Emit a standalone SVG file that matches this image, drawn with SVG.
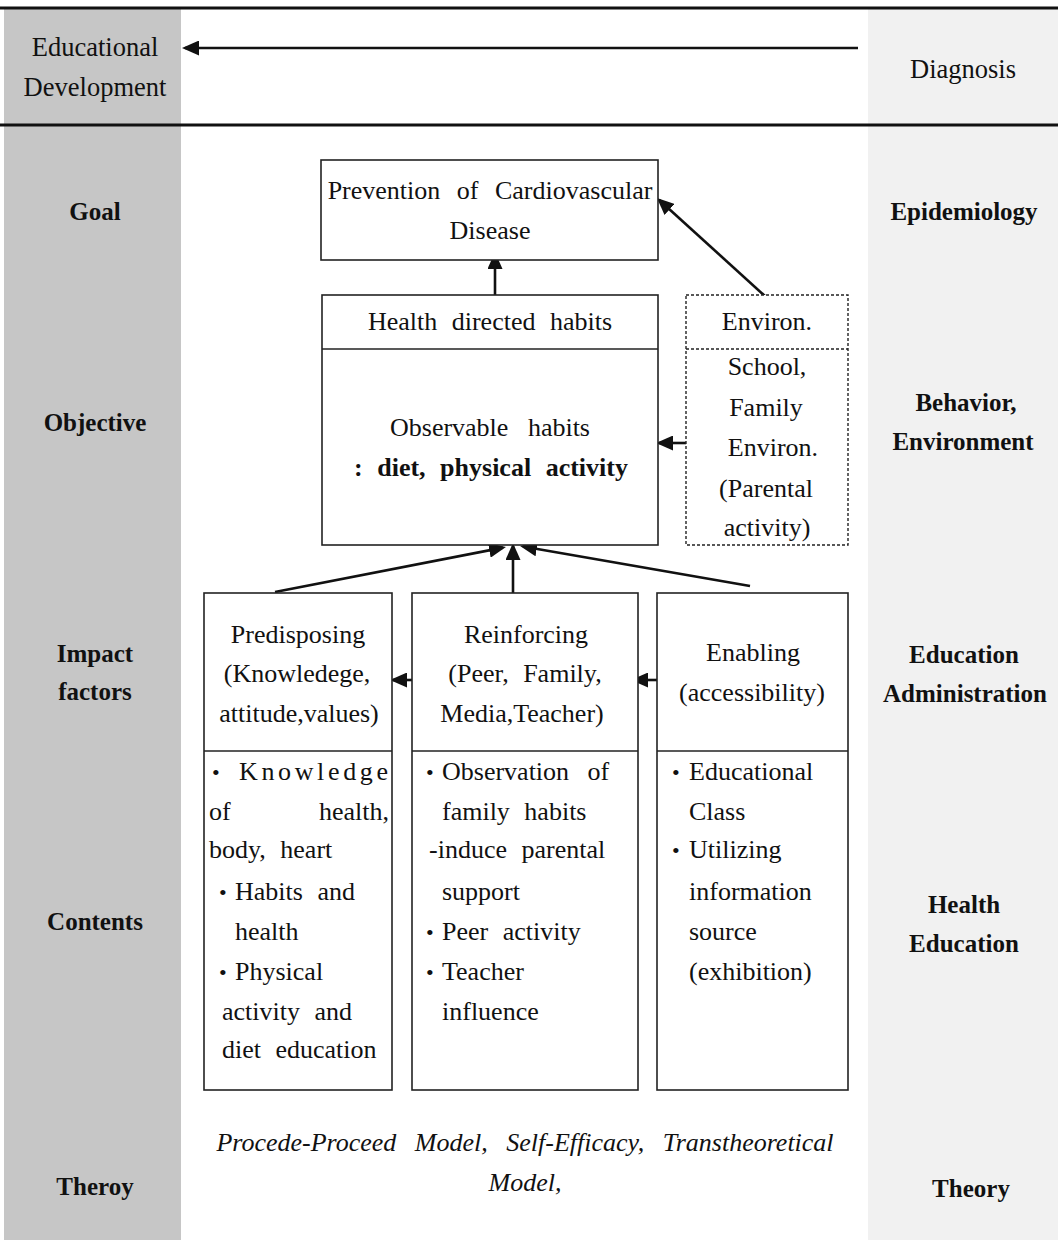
<svg xmlns="http://www.w3.org/2000/svg" width="1058" height="1240" viewBox="0 0 1058 1240">
<style>
.t{font-family:"Liberation Serif","Times New Roman",serif;font-size:26px;fill:#111;word-spacing:8px}
.c{text-anchor:middle}
.e{text-anchor:end}
.bd{font-weight:bold}
.lab{font-family:"Liberation Serif","Times New Roman",serif;font-size:25px;font-weight:bold;fill:#111;text-anchor:middle}
.it{font-style:italic;word-spacing:12px}
.bu{font-size:22px}
.box{fill:#fff;stroke:#222;stroke-width:1.6}
.dash{fill:#fff;stroke:#222;stroke-width:1.4;stroke-dasharray:3 2}
.rule{stroke:#111;stroke-width:3}
.arr{stroke:#111;stroke-width:2.6;fill:none;marker-end:url(#ah)}
</style>
<defs>
<marker id="ah" markerUnits="userSpaceOnUse" markerWidth="17" markerHeight="15" refX="14" refY="7.5" orient="auto">
<path d="M0,0 L17,7.5 L0,15 z" fill="#111"/>
</marker>
</defs>
<rect width="1058" height="1240" fill="#fff"/>
<g id="columns">
<rect x="4" y="9" width="177" height="1231" fill="#c6c6c6"/>
<rect x="868" y="9" width="190" height="1231" fill="#f1f1f1"/>
</g>
<g id="rules">
<line class="rule" x1="0" y1="8" x2="1058" y2="8"/>
<line class="rule" x1="0" y1="125" x2="1058" y2="125"/>
</g>
<g id="left-labels">
<text class="t c" x="95" y="56" style="font-size:26.5px">Educational</text>
<text class="t c" x="95" y="96" style="font-size:26.5px">Development</text>
<text class="lab" x="95" y="220">Goal</text>
<text class="lab" x="95" y="431">Objective</text>
<text class="lab" x="95" y="662">Impact</text>
<text class="lab" x="95" y="700">factors</text>
<text class="lab" x="95" y="930">Contents</text>
<text class="lab" x="95" y="1195">Theroy</text>
</g>
<g id="right-labels">
<text class="t c" x="963" y="78" style="font-size:26.5px">Diagnosis</text>
<text class="lab" x="964" y="220">Epidemiology</text>
<text class="lab" x="966" y="411">Behavior,</text>
<text class="lab" x="963" y="450">Environment</text>
<text class="lab" x="964" y="663">Education</text>
<text class="lab" x="965" y="702">Administration</text>
<text class="lab" x="964" y="913">Health</text>
<text class="lab" x="964" y="952">Education</text>
<text class="lab" x="971" y="1197">Theory</text>
</g>
<g id="connectors">
<line class="arr" x1="858" y1="48" x2="185" y2="48"/>
<line class="arr" x1="495" y1="295" x2="495" y2="255"/>
<line class="arr" x1="766" y1="297" x2="659.2" y2="200"/>
<line class="arr" x1="686" y1="443" x2="659" y2="443"/>
<line class="arr" x1="275" y1="592" x2="503" y2="547.6"/>
<line class="arr" x1="513" y1="593" x2="513" y2="546"/>
<line class="arr" x1="750" y1="586" x2="523" y2="546.5"/>
<line class="arr" x1="412" y1="680" x2="393" y2="680"/>
<line class="arr" x1="657" y1="680" x2="634" y2="680"/>
</g>
<g id="goal">
<rect class="box" x="321" y="160" width="337" height="100"/>
<text class="t c" x="490" y="199" style="word-spacing:10px">Prevention of Cardiovascular</text>
<text class="t c" x="490" y="239">Disease</text>
</g>
<g id="habits">
<rect class="box" x="322" y="295" width="336" height="250"/>
<line stroke="#222" stroke-width="1.6" x1="322" y1="349" x2="658" y2="349"/>
<text class="t c" x="490" y="330">Health directed habits</text>
<text class="t c" x="490" y="436" style="word-spacing:13px">Observable habits</text>
<text class="t c bd" x="491" y="476" style="word-spacing:8px">: diet, physical activity</text>
</g>
<g id="environ">
<rect class="dash" x="686" y="295" width="162" height="250"/>
<line stroke="#222" stroke-width="1.4" stroke-dasharray="3 2" x1="686" y1="349" x2="848" y2="349"/>
<text class="t c" x="767" y="330">Environ.</text>
<text class="t c" x="767" y="375">School,</text>
<text class="t c" x="766" y="416">Family</text>
<text class="t c" x="773" y="456">Environ.</text>
<text class="t c" x="766" y="497">(Parental</text>
<text class="t c" x="767" y="536">activity)</text>
</g>
<g id="predisposing">
<rect class="box" x="204" y="593" width="188" height="497"/>
<line stroke="#222" stroke-width="1.6" x1="204" y1="751" x2="392" y2="751"/>
<text class="t c" x="298" y="643">Predisposing</text>
<text class="t c" x="297" y="682">(Knowledege,</text>
<text class="t c" x="299" y="722">attitude,values)</text>
<text class="t" y="780"><tspan class="bu" x="212">•</tspan><tspan x="239" textLength="149" lengthAdjust="spacing">Knowledge</tspan></text>
<text class="t" x="209" y="820">of</text>
<text class="t e" x="389" y="820">health,</text>
<text class="t" x="209" y="858">body, heart</text>
<text class="t" y="900"><tspan class="bu" x="219">•</tspan><tspan x="235">Habits and</tspan></text>
<text class="t" x="235" y="940">health</text>
<text class="t" y="980"><tspan class="bu" x="219">•</tspan><tspan x="235">Physical</tspan></text>
<text class="t" x="222" y="1020">activity and</text>
<text class="t" x="222" y="1058">diet education</text>
</g>
<g id="reinforcing">
<rect class="box" x="412" y="593" width="226" height="497"/>
<line stroke="#222" stroke-width="1.6" x1="412" y1="751" x2="638" y2="751"/>
<text class="t c" x="526" y="643">Reinforcing</text>
<text class="t c" x="525" y="682">(Peer, Family,</text>
<text class="t c" x="522" y="722">Media,Teacher)</text>
<text class="t" y="780" style="word-spacing:12px"><tspan class="bu" x="426">•</tspan><tspan x="442">Observation of</tspan></text>
<text class="t" x="442" y="820">family habits</text>
<text class="t" x="429" y="858">-induce parental</text>
<text class="t" x="442" y="900">support</text>
<text class="t" y="940"><tspan class="bu" x="426">•</tspan><tspan x="442">Peer activity</tspan></text>
<text class="t" y="980"><tspan class="bu" x="426">•</tspan><tspan x="442">Teacher</tspan></text>
<text class="t" x="442" y="1020">influence</text>
</g>
<g id="enabling">
<rect class="box" x="657" y="593" width="191" height="497"/>
<line stroke="#222" stroke-width="1.6" x1="657" y1="751" x2="848" y2="751"/>
<text class="t c" x="753" y="661">Enabling</text>
<text class="t c" x="752" y="701">(accessibility)</text>
<text class="t" y="780"><tspan class="bu" x="672">•</tspan><tspan x="689">Educational</tspan></text>
<text class="t" x="689" y="820">Class</text>
<text class="t" y="858"><tspan class="bu" x="672">•</tspan><tspan x="689">Utilizing</tspan></text>
<text class="t" x="689" y="900">information</text>
<text class="t" x="689" y="940">source</text>
<text class="t" x="689" y="980">(exhibition)</text>
</g>
<g id="theory">
<text class="t c it" x="525" y="1151">Procede-Proceed Model, Self-Efficacy, Transtheoretical</text>
<text class="t c it" x="525" y="1191">Model,</text>
</g>
</svg>
